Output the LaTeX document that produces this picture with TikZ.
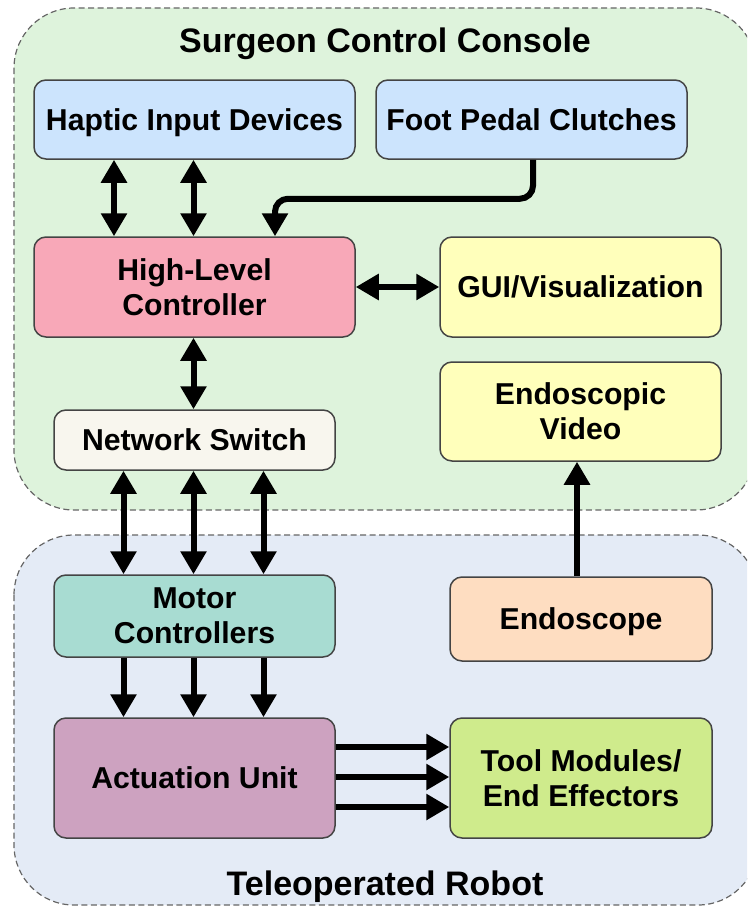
\documentclass[tikz,border=0pt]{standalone}
\usepackage{fontspec}
\setmainfont{Liberation Sans}
\usetikzlibrary{arrows.meta}
\definecolor{grpgreen}{HTML}{DEF3DC}
\definecolor{grpblue}{HTML}{E4EBF6}
\definecolor{cblue}{HTML}{CCE4FD}
\definecolor{cpink}{HTML}{F8A8B8}
\definecolor{cyellow}{HTML}{FFFFBB}
\definecolor{ccream}{HTML}{F8F6EE}
\definecolor{cteal}{HTML}{A8DCD2}
\definecolor{cpeach}{HTML}{FEDDC1}
\definecolor{cmauve}{HTML}{CDA2C0}
\definecolor{clime}{HTML}{CFEB8C}
\definecolor{bordergray}{HTML}{444444}
\definecolor{dashgray}{HTML}{666666}
\tikzset{
  grp/.style={draw=dashgray, line width=1.2pt, dash pattern=on 6pt off 3.5pt, rounded corners=60pt},
  box/.style={draw=bordergray, line width=1.5pt, rounded corners=12pt, align=center,
    font=\fontsize{30.2}{35}\selectfont\bfseries, inner sep=0pt, text depth=0pt},
  grptitle/.style={font=\fontsize{34}{40}\selectfont\bfseries, text depth=0pt, inner sep=0pt},
  arr/.style={line width=6pt, -{Triangle[length=23pt,width=25pt]}},
  darr/.style={line width=6pt, {Triangle[length=23pt,width=25pt]}-{Triangle[length=23pt,width=25pt]}},
}
\begin{document}
\begin{tikzpicture}[x=1pt,y=-1pt]
\useasboundingbox (0,0) rectangle (747,907);
\clip (0,0) rectangle (747,907);
% groups
\draw[grp, fill=grpgreen] (14,8) rectangle (756,510);
\draw[grp, fill=grpblue] (14,535) rectangle (758,905);
\node[grptitle] (ttop) at (385,40) {Surgeon Control Console};
\node[grptitle] (tbot) at (385,883) {Teleoperated Robot};
% boxes
\node[box, fill=cblue, minimum width=321pt, minimum height=79pt] (haptic) at (194.5,119.5) {Haptic Input Devices};
\node[box, fill=cblue, minimum width=311pt, minimum height=79pt] (foot) at (531.5,119.5) {Foot Pedal Clutches};
\node[box, fill=cpink, minimum width=321pt, minimum height=100pt] (hlc) at (194.5,287) {High-Level\\Controller};
\node[box, fill=cyellow, minimum width=281pt, minimum height=100pt] (gui) at (580.5,287) {GUI/Visualization};
\node[box, fill=ccream, minimum width=281pt, minimum height=60pt] (net) at (194.5,440) {Network Switch};
\node[box, fill=cyellow, minimum width=281pt, minimum height=99pt] (vid) at (580.5,411.5) {Endoscopic\\Video};
\node[box, fill=cteal, minimum width=281pt, minimum height=82pt] (motor) at (194.5,616) {Motor\\Controllers};
\node[box, fill=cpeach, minimum width=262pt, minimum height=84pt] (endo) at (581,619) {Endoscope};
\node[box, fill=cmauve, minimum width=281pt, minimum height=120pt] (act) at (194.5,778) {Actuation Unit};
\node[box, fill=clime, minimum width=262pt, minimum height=120pt] (tool) at (581,778) {Tool Modules/\\End Effectors};
% connectors
\draw[darr] ([xshift=-80.5pt]haptic.south) -- ([xshift=-80.5pt]hlc.north);
\draw[darr] ([xshift=-1pt]haptic.south) -- ([xshift=-1pt]hlc.north);
\draw[arr, rounded corners=13pt] ([xshift=1.5pt]foot.south) -- ++(0,39) -| ([xshift=80.5pt]hlc.north);
\draw[darr] (hlc.east) -- (gui.west);
\draw[darr] ([xshift=-1pt]hlc.south) -- ([xshift=-1pt]net.north);
\foreach \dx in {-71,-1,69}{
  \draw[darr] ([xshift=\dx pt]net.south) -- ([xshift=\dx pt]motor.north);
  \draw[arr] ([xshift=\dx pt]motor.south) -- ([xshift=\dx pt]act.north);
}
\foreach \dy in {31,1,-29}{
  \draw[arr] ([yshift=\dy pt]act.east) -- ([yshift=\dy pt]tool.west);
}
\draw[arr] ([xshift=-4pt]endo.north) -- ([xshift=-3.5pt]vid.south);
\end{tikzpicture}
\end{document}
